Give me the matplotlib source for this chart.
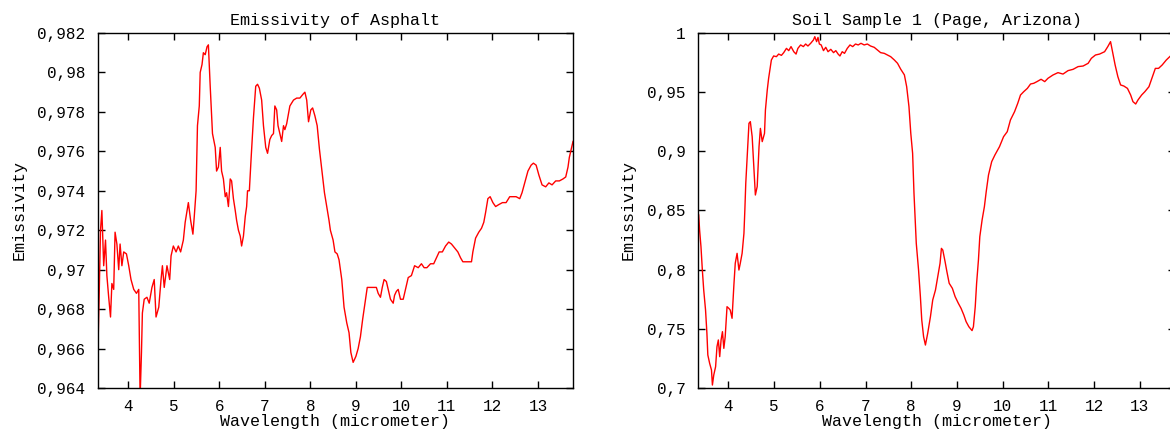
import matplotlib
matplotlib.use("Agg")
import matplotlib.pyplot as plt
from matplotlib.ticker import FuncFormatter, MultipleLocator

# Asphalt emissivity spectrum
asphalt_wl = [3.335, 3.36, 3.39, 3.42, 3.46, 3.50, 3.53, 3.57, 3.61, 3.64, 3.68, 3.71, 3.75, 3.79,
              3.82, 3.86, 3.90, 3.96, 4.01, 4.06, 4.12, 4.18, 4.23, 4.26, 4.29, 4.31, 4.35, 4.41,
              4.46, 4.52, 4.57, 4.61, 4.67, 4.72, 4.75, 4.79, 4.85, 4.91, 4.94, 4.99, 5.05, 5.10,
              5.15, 5.21, 5.25, 5.32, 5.37, 5.42, 5.45, 5.49, 5.52, 5.56, 5.58, 5.62, 5.65, 5.69,
              5.73, 5.76, 5.80, 5.85, 5.91, 5.94, 5.98, 6.02, 6.05, 6.09, 6.13, 6.16, 6.20, 6.24,
              6.27, 6.31, 6.35, 6.38, 6.42, 6.46, 6.49, 6.53, 6.57, 6.60, 6.62, 6.66, 6.70, 6.75,
              6.80, 6.84, 6.88, 6.93, 6.97, 7.02, 7.06, 7.11, 7.15, 7.19, 7.22, 7.26, 7.29, 7.33,
              7.37, 7.41, 7.44, 7.48, 7.52, 7.55, 7.63, 7.70, 7.77, 7.84, 7.88, 7.92, 7.96, 8.01,
              8.05, 8.10, 8.15, 8.20, 8.25, 8.31, 8.36, 8.41, 8.44, 8.50, 8.54, 8.59, 8.63, 8.69,
              8.74, 8.80, 8.85, 8.89, 8.94, 9.00, 9.05, 9.10, 9.15, 9.20, 9.25, 9.31, 9.38, 9.45,
              9.49, 9.54, 9.58, 9.62, 9.67, 9.71, 9.76, 9.82, 9.85, 9.89, 9.93, 9.98, 10.04, 10.10,
              10.15, 10.22, 10.29, 10.37, 10.44, 10.50, 10.56, 10.64, 10.71, 10.77, 10.83, 10.90,
              10.97, 11.04, 11.10, 11.17, 11.24, 11.30, 11.35, 11.43, 11.49, 11.54, 11.57, 11.63,
              11.70, 11.76, 11.81, 11.85, 11.90, 11.95, 12.01, 12.07, 12.14, 12.22, 12.30, 12.38,
              12.44, 12.52, 12.60, 12.65, 12.71, 12.78, 12.85, 12.90, 12.96, 13.02, 13.09, 13.17,
              13.24, 13.31, 13.39, 13.47, 13.55, 13.61, 13.66, 13.69, 13.74, 13.77]
asphalt_em = [0.9661, 0.9686, 0.9720, 0.9730, 0.9702, 0.9715, 0.9697, 0.9686, 0.9676, 0.9693,
              0.9690, 0.9719, 0.9713, 0.9700, 0.9713, 0.9702, 0.9709, 0.9708, 0.9702, 0.9695,
              0.9690, 0.9688, 0.9690, 0.9635, 0.9658, 0.9678, 0.9685, 0.9686, 0.9683, 0.9691,
              0.9695, 0.9676, 0.9681, 0.9695, 0.9702, 0.9691, 0.9702, 0.9695, 0.9707, 0.9712,
              0.9709, 0.9712, 0.9709, 0.9715, 0.9724, 0.9734, 0.9725, 0.9718, 0.9727, 0.9740,
              0.9773, 0.9783, 0.9800, 0.9804, 0.9810, 0.9809, 0.9813, 0.9814, 0.9793, 0.9769,
              0.9762, 0.9750, 0.9752, 0.9762, 0.9750, 0.9746, 0.9737, 0.9739, 0.9732, 0.9746,
              0.9745, 0.9736, 0.9730, 0.9725, 0.9720, 0.9717, 0.9712, 0.9717, 0.9727, 0.9732,
              0.9740, 0.9740, 0.9757, 0.9777, 0.9793, 0.9794, 0.9792, 0.9786, 0.9773, 0.9762,
              0.9759, 0.9766, 0.9768, 0.9769, 0.9783, 0.9781, 0.9773, 0.9769, 0.9765, 0.9773,
              0.9771, 0.9774, 0.9779, 0.9783, 0.9786, 0.9787, 0.9787, 0.9789, 0.9790, 0.9786,
              0.9775, 0.9781, 0.9782, 0.9778, 0.9773, 0.9761, 0.9751, 0.9739, 0.9732, 0.9725,
              0.9720, 0.9715, 0.9709, 0.9708, 0.9705, 0.9695, 0.9681, 0.9673, 0.9668, 0.9658,
              0.9653, 0.9656, 0.9660, 0.9666, 0.9675, 0.9683, 0.9691, 0.9691, 0.9691, 0.9691,
              0.9688, 0.9686, 0.9691, 0.9695, 0.9694, 0.9690, 0.9685, 0.9683, 0.9687, 0.9689,
              0.9690, 0.9685, 0.9685, 0.9691, 0.9696, 0.9697, 0.9702, 0.9701, 0.9703, 0.9701,
              0.9701, 0.9703, 0.9703, 0.9706, 0.9709, 0.9709, 0.9712, 0.9714, 0.9713, 0.9711,
              0.9709, 0.9706, 0.9704, 0.9704, 0.9704, 0.9704, 0.9709, 0.9716, 0.9719, 0.9721,
              0.9724, 0.9729, 0.9736, 0.9737, 0.9734, 0.9732, 0.9733, 0.9734, 0.9734, 0.9737,
              0.9737, 0.9737, 0.9736, 0.9739, 0.9744, 0.9750, 0.9753, 0.9754, 0.9753, 0.9748,
              0.9743, 0.9742, 0.9744, 0.9743, 0.9745, 0.9745, 0.9746, 0.9747, 0.9752, 0.9757,
              0.9762, 0.9765]

# Soil sample 1 (Page, Arizona)
soil_wl = [3.35, 3.37, 3.40, 3.43, 3.46, 3.50, 3.53, 3.55, 3.59, 3.63, 3.65, 3.68, 3.72, 3.75,
           3.78, 3.81, 3.84, 3.87, 3.90, 3.93, 3.97, 4.01, 4.04, 4.08, 4.12, 4.15, 4.19, 4.23,
           4.26, 4.30, 4.34, 4.36, 4.38, 4.41, 4.45, 4.48, 4.52, 4.56, 4.59, 4.63, 4.67, 4.70,
           4.74, 4.79, 4.81, 4.85, 4.88, 4.94, 4.99, 5.05, 5.10, 5.16, 5.21, 5.27, 5.32, 5.37,
           5.43, 5.48, 5.52, 5.58, 5.64, 5.69, 5.74, 5.80, 5.86, 5.89, 5.93, 5.96, 5.99, 6.03,
           6.08, 6.13, 6.18, 6.24, 6.30, 6.35, 6.40, 6.44, 6.49, 6.54, 6.60, 6.66, 6.72, 6.78,
           6.84, 6.90, 6.97, 7.04, 7.11, 7.19, 7.26, 7.33, 7.41, 7.48, 7.55, 7.63, 7.70, 7.77,
           7.85, 7.90, 7.95,
           7.99, 8.03, 8.06, 8.11, 8.16, 8.20, 8.23, 8.27, 8.31, 8.36, 8.42, 8.47, 8.53, 8.58,
           8.63, 8.66, 8.69, 8.74, 8.78, 8.83, 8.90, 8.96, 9.03, 9.09, 9.15, 9.20, 9.26, 9.33,
           9.36, 9.40, 9.43, 9.47, 9.50, 9.55, 9.60, 9.64, 9.69, 9.76, 9.83, 9.93, 10.02, 10.10,
           10.17, 10.26, 10.33, 10.39, 10.46, 10.54, 10.61, 10.68, 10.75, 10.84, 10.92, 10.99,
           11.10, 11.21, 11.32, 11.43, 11.54, 11.65, 11.76, 11.87, 11.94, 12.03, 12.12, 12.23,
           12.30, 12.36, 12.41, 12.46, 12.52, 12.58, 12.65, 12.73, 12.80, 12.85, 12.91, 12.96,
           13.04, 13.11, 13.20, 13.29, 13.34, 13.41, 13.49, 13.58, 13.67, 13.77]
soil_em = [0.8462, 0.8335, 0.8194, 0.7997, 0.7828, 0.7659, 0.7462, 0.7279, 0.7208, 0.7152,
           0.7025, 0.7110, 0.7180, 0.7349, 0.7406, 0.7265, 0.7406, 0.7476, 0.7335, 0.7434,
           0.7687, 0.7673, 0.7659, 0.7589, 0.7870, 0.8054, 0.8138, 0.7997, 0.8054, 0.8138,
           0.8307, 0.8504, 0.8730, 0.8955, 0.9237, 0.9251, 0.9124, 0.8842, 0.8631, 0.8702,
           0.9039, 0.9194, 0.9082, 0.9152, 0.9349, 0.9518, 0.9617, 0.9772, 0.9806, 0.9800,
           0.9822, 0.9811, 0.9834, 0.9870, 0.9851, 0.9885, 0.9842, 0.9822, 0.9870, 0.9899,
           0.9885, 0.9907, 0.9890, 0.9913, 0.9941, 0.9969, 0.9927, 0.9963, 0.9907, 0.9899,
           0.9851, 0.9879, 0.9842, 0.9862, 0.9834, 0.9851, 0.9822, 0.9806, 0.9842, 0.9828,
           0.9870, 0.9899, 0.9885, 0.9907, 0.9899, 0.9913, 0.9899, 0.9907, 0.9890, 0.9879,
           0.9856, 0.9834, 0.9828, 0.9814, 0.9800, 0.9772, 0.9744, 0.9694, 0.9646, 0.9546,
           0.9378,
           0.9152, 0.8983, 0.8645, 0.8223, 0.7997, 0.7772,
           0.7575, 0.7434, 0.7363, 0.7462, 0.7603, 0.7744, 0.7828, 0.7941, 0.8054, 0.8180,
           0.8166, 0.8068, 0.7983, 0.7885, 0.7842, 0.7772, 0.7716, 0.7673, 0.7617, 0.7561,
           0.7518, 0.7485, 0.7518, 0.7687, 0.7885, 0.8082, 0.8279, 0.8420, 0.8532, 0.8659,
           0.8800, 0.8913, 0.8969, 0.9039, 0.9124, 0.9166, 0.9265, 0.9335, 0.9406, 0.9476,
           0.9504, 0.9532, 0.9569, 0.9575, 0.9589, 0.9609, 0.9589, 0.9617, 0.9645, 0.9665,
           0.9653, 0.9682, 0.9693, 0.9716, 0.9721, 0.9744, 0.9786, 0.9814, 0.9822, 0.9842,
           0.9885, 0.9927, 0.9828, 0.9730, 0.9631, 0.9561, 0.9552, 0.9532, 0.9476, 0.9420,
           0.9400, 0.9434, 0.9476, 0.9504, 0.9546, 0.9645, 0.9701, 0.9701, 0.9730, 0.9772,
           0.9806, 0.9840]

plt.rcParams['font.family'] = ['Liberation Mono', 'DejaVu Sans Mono']
plt.rcParams['font.size'] = 11.5

comma = FuncFormatter(lambda v, p: ('%g' % round(v, 6)).replace('.', ','))

fig = plt.figure(figsize=(11.7, 4.32), dpi=100)
ax1 = fig.add_axes([98 / 1170, 44 / 432, 475 / 1170, 355 / 432])
ax2 = fig.add_axes([698 / 1170, 44 / 432, 477 / 1170, 355 / 432])


def style(ax, title, ymin, ymax, ystep):
    ax.set_xlim(3.335, 13.77)
    ax.set_ylim(ymin, ymax)
    ax.xaxis.set_major_locator(MultipleLocator(1))
    ax.yaxis.set_major_locator(MultipleLocator(ystep))
    ax.yaxis.set_major_formatter(comma)
    ax.tick_params(direction='in', length=5, width=1, top=True, right=True)
    ax.tick_params(axis='y', pad=9)
    ax.tick_params(axis='x', pad=8)
    for s in ax.spines.values():
        s.set_linewidth(1)
    ax.set_title(title, fontsize=12, pad=6)
    ax.set_xlabel("Wavelength (micrometer)", fontsize=12, labelpad=0)
    ax.set_ylabel("Emissivity", fontsize=12, labelpad=8)


ax1.plot(asphalt_wl, asphalt_em, color='red', lw=1)
style(ax1, "Emissivity of Asphalt", 0.964, 0.982, 0.002)

ax2.plot(soil_wl, soil_em, color='red', lw=1)
style(ax2, "Soil Sample 1 (Page, Arizona)", 0.7, 1.0, 0.05)

fig.savefig("out.png", dpi=100)
